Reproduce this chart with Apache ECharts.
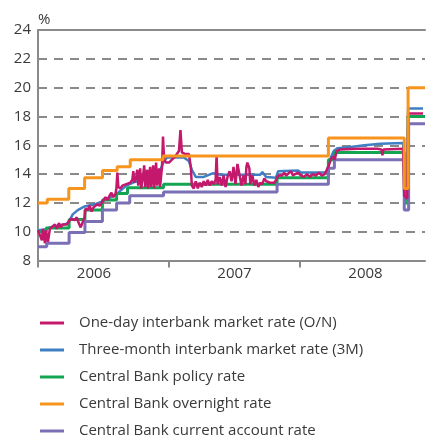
<!DOCTYPE html>
<html>
<head>
<meta charset="utf-8">
<script src="https://cdn.jsdelivr.net/npm/echarts@6/dist/echarts.min.js"></script>
<style>
html,body{margin:0;padding:0;background:#fff;}
#chart{width:428px;height:436px;}
</style>
</head>
<body>
<div id="chart"></div>
<script>
// x positions are months elapsed since 1 Jan 2006
const yearLabels = ['2006', '2007', '2008'];
const yTicks = [8, 10, 12, 14, 16, 18, 20, 22, 24];
const xEndMonths = 35.45;

const seriesNames = [
  'One-day interbank market rate (O/N)',
  'Three-month interbank market rate (3M)',
  'Central Bank policy rate',
  'Central Bank overnight rate',
  'Central Bank current account rate'
];

const onMonths = [0,0.18,0.36,0.45,0.64,0.73,0.91,1.09,1.27,1.55,1.73,1.91,2.09,2.27,2.45,2.64,2.82,3.0,3.18,3.36,3.55,3.73,3.91,4.09,4.27,4.36,4.55,4.73,4.91,5.09,5.27,5.45,5.64,5.82,6.0,6.18,6.36,6.55,6.73,6.91,7.09,7.18,7.27,7.36,7.55,7.73,7.91,8.09,8.27,8.45,8.64,8.73,8.82,9.0,9.09,9.18,9.36,9.45,9.64,9.73,9.82,10.0,10.09,10.27,10.36,10.55,10.64,10.82,10.91,11.09,11.18,11.36,11.45,11.55,11.73,12.0,12.27,12.55,12.73,12.91,13.05,13.18,13.45,13.82,14.0,14.09,14.27,14.45,14.64,14.82,15.0,15.18,15.36,15.55,15.73,15.91,16.09,16.27,16.36,16.45,16.64,16.82,17.0,17.18,17.36,17.55,17.73,17.91,18.09,18.27,18.45,18.64,18.82,19.0,19.09,19.18,19.36,19.45,19.64,19.82,20.0,20.18,20.36,20.55,20.73,20.91,21.09,21.27,21.45,21.64,21.82,22.0,22.18,22.36,22.55,22.73,22.91,23.18,23.36,23.55,23.82,24.09,24.36,24.64,24.91,25.18,25.45,25.73,26.0,26.27,26.45,26.64,26.82,27.0,27.18,27.36,27.64,29.27,31.09,31.45,31.55,31.64,33.45,33.55,33.82,33.91,35.27];
const onValues = [10.1,10.2,9.4,10.2,9.2,10.1,9.3,10.2,10.3,10.5,10.2,10.6,10.3,10.5,10.4,10.5,10.6,10.9,11.0,10.8,11.0,10.6,10.3,10.4,11.0,11.6,11.5,11.8,11.4,11.7,11.6,11.9,11.8,12.0,12.2,12.4,12.2,12.5,12.7,12.4,12.6,13.0,14.1,13.1,13.0,13.2,13.1,13.3,13.2,13.4,13.6,14.2,13.4,13.8,14.3,13.2,14.4,13.0,14.0,14.6,13.1,14.3,13.0,14.5,13.1,14.6,13.0,14.8,13.2,14.4,13.1,14.5,16.6,15.0,14.8,14.8,15.0,15.2,15.3,15.6,17.05,15.5,15.4,15.4,14.5,13.2,13.0,13.5,13.0,13.4,13.1,13.5,13.2,13.6,13.2,13.5,13.3,13.6,15.3,13.3,13.8,13.2,13.9,13.1,13.8,14.2,13.5,14.5,13.3,14.7,14.6,13.2,13.9,13.3,14.5,14.8,14.4,13.3,13.9,13.2,13.6,13.1,13.4,13.3,13.7,13.5,13.6,13.4,13.5,13.4,13.6,13.9,14.0,13.9,14.1,13.9,14.0,14.2,13.9,14.0,14.1,13.9,13.8,14.0,13.8,14.0,13.9,14.1,13.9,14.0,13.9,14.6,15.0,15.2,15.0,15.6,15.7,15.75,15.75,15.7,15.3,15.7,15.75,12.5,12.3,18.2,18.2];

const m3Months = [0,0.64,1.09,2.0,2.64,2.91,3.18,3.64,4.27,5.18,5.91,6.55,7.18,7.64,8.09,8.82,9.73,10.64,11.09,11.55,11.82,13.36,13.82,14.09,14.45,15.18,16.0,16.73,18.36,20.36,20.55,20.9,21.8,22.0,23.82,24.1,26.45,26.73,27.09,27.45,28.8,29.9,31.36,33.45,33.55,33.8,33.9,35.27];
const m3Values = [10.1,10.15,10.3,10.45,10.55,10.8,11.2,11.5,11.75,11.9,12.1,12.35,12.6,12.9,13.2,13.45,13.6,13.8,14.1,14.9,15.15,15.15,14.9,14.3,13.8,13.8,14.05,13.95,13.95,13.95,14.15,13.8,13.75,14.2,14.25,14.1,14.1,15.0,15.6,15.8,15.9,16.0,16.1,16.15,12.3,12.2,18.55,18.55];

const policyMonths = [0,0.75,2.85,4.3,5.9,7.2,8.2,11.5,21.9,26.6,27.15,33.6,33.9,35.45];
const policyValues = [10.0,10.25,10.85,11.5,12.2,12.65,13.05,13.3,13.75,15.0,15.5,12.0,18.0,18.0];

const overnightMonths = [0,0.85,2.82,4.27,5.91,7.25,8.45,11.45,26.6,33.55,33.9,35.45];
const overnightValues = [12.0,12.25,13.0,13.75,14.25,14.5,15.0,15.25,16.5,13.0,20.0,20.0];

const currentMonths = [0,0.8,2.85,4.3,5.9,7.2,8.4,11.5,21.9,26.6,27.15,33.55,33.95,35.45];
const currentValues = [8.95,9.2,9.95,10.7,11.5,12.0,12.5,12.75,13.3,14.4,15.0,11.5,17.5,17.5];

const colors = ['#c4186c', '#3f7fc3', '#12a552', '#f7941e', '#7a70b6'];

function toYear(m) { return 2006 + m / 12; }
function pairs(ms, vs) { return ms.map((m, i) => [toYear(m), vs[i]]); }

const FONT = 'Open Sans';
const TXT = '#3a3a3a';
const AX = '#8a8a8a';
const chart = echarts.init(document.getElementById('chart'), null, {renderer: 'canvas'});

const xMin = 2006, xMax = toYear(xEndMonths);
const yearStarts = yearLabels.map(y => Number(y));

function mkSeries(idx, ms, vs, step, width) {
  return {
    name: seriesNames[idx], type: 'line', data: pairs(ms, vs),
    step: step ? 'end' : false, showSymbol: false, symbol: 'none',
    lineStyle: {color: colors[idx], width: width}, itemStyle: {color: colors[idx]},
    xAxisIndex: 0, yAxisIndex: 0, animation: false, clip: true
  };
}

chart.setOption({
  animation: false,
  textStyle: {fontFamily: FONT},
  grid: {left: 38, right: 0, top: 30, bottom: 175.5, show: false},
  legend: {
    orient: 'vertical', left: 40, top: 314, itemGap: 9, padding: 0, height: 200,
    icon: 'rect', itemWidth: 24, itemHeight: 3,
    data: seriesNames,
    textStyle: {fontFamily: FONT, fontSize: 15, color: TXT, lineHeight: 18, padding: [0, 0, 0, 10]},
    selectedMode: false
  },
  xAxis: [
    {
      type: 'value', min: xMin, max: xMax, interval: 1, position: 'bottom',
      axisLine: {show: true, onZero: false, lineStyle: {color: AX, width: 2}},
      axisTick: {show: true, length: 7, customValues: yearStarts, lineStyle: {color: AX, width: 2}},
      axisLabel: {show: false},
      splitLine: {show: false}
    },
    {
      type: 'value', min: xMin, max: xMax, interval: 0.5, position: 'bottom',
      axisLine: {show: false}, axisTick: {show: false}, splitLine: {show: false},
      axisLabel: {
        show: true, margin: 6, fontSize: 15, color: TXT, fontFamily: FONT,
        formatter: function (v) {
          const f = v - Math.floor(v);
          if (Math.abs(f - 0.5) > 1e-6) return '';
          const idx = Math.floor(v) - 2006;
          const lab = yearLabels[idx] || '';
          return idx === 0 ? '{s|' + lab + '}' : lab;
        },
        rich: {s: {fontSize: 15, color: TXT, fontFamily: FONT, padding: [0, 19, 0, 0]}}
      }
    },
    {
      type: 'value', min: xMin, max: xMax, position: 'top',
      axisLine: {show: true, onZero: false, lineStyle: {color: AX, width: 2}},
      axisTick: {show: false}, axisLabel: {show: false}, splitLine: {show: false}
    }
  ],
  yAxis: {
    type: 'value', min: yTicks[0], max: yTicks[yTicks.length - 1], interval: 2,
    name: '%', nameLocation: 'end', nameGap: 3,
    nameTextStyle: {fontSize: 15, color: TXT, align: 'left', fontFamily: FONT},
    axisLine: {show: true, onZero: false, lineStyle: {color: AX, width: 2}},
    axisTick: {show: false},
    axisLabel: {fontSize: 15, color: TXT, margin: 7, fontFamily: FONT},
    splitLine: {show: true, showMinLine: false, showMaxLine: false, lineStyle: {color: AX, width: 2, type: [9, 7]}}
  },
  series: [
    mkSeries(1, m3Months, m3Values, false, 2.5),
    mkSeries(2, policyMonths, policyValues, true, 3),
    mkSeries(4, currentMonths, currentValues, true, 3),
    mkSeries(0, onMonths, onValues, false, 2.5),
    mkSeries(3, overnightMonths, overnightValues, true, 3)
  ]
});
</script>
</body>
</html>
